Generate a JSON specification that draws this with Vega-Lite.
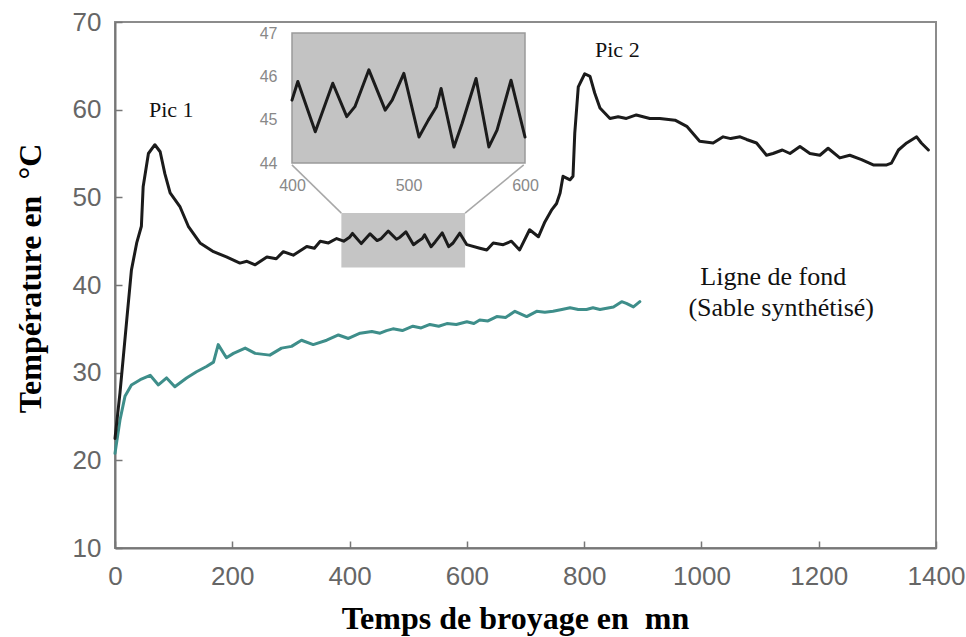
{
  "$schema": "https://vega.github.io/schema/vega-lite/v6.json",
  "width": 821,
  "height": 526,
  "autosize": "none",
  "padding": {"left": 115, "top": 22, "right": 30, "bottom": 89},
  "background": "white",
  "config": {"view": {"stroke": "#8c8c8c", "strokeWidth": 2}, "axis": {"grid": false}},
  "datasets": {
    "black": [
      {"t": 0, "temp": 22.5}, {"t": 8.5, "temp": 27.7}, {"t": 20, "temp": 36}, {"t": 28, "temp": 41.7},
      {"t": 37, "temp": 44.8}, {"t": 45, "temp": 46.7}, {"t": 48, "temp": 51.2}, {"t": 57, "temp": 55.0},
      {"t": 68, "temp": 56.0}, {"t": 77, "temp": 55.2}, {"t": 85, "temp": 52.7}, {"t": 94, "temp": 50.5},
      {"t": 111, "temp": 48.9}, {"t": 125, "temp": 46.7}, {"t": 145, "temp": 44.8}, {"t": 168, "temp": 43.8},
      {"t": 190, "temp": 43.2}, {"t": 213, "temp": 42.5}, {"t": 225, "temp": 42.7}, {"t": 239, "temp": 42.3},
      {"t": 259, "temp": 43.2}, {"t": 275, "temp": 43.0}, {"t": 287, "temp": 43.8}, {"t": 304, "temp": 43.4},
      {"t": 327, "temp": 44.4}, {"t": 340, "temp": 44.2}, {"t": 350, "temp": 45.0}, {"t": 364, "temp": 44.8},
      {"t": 378, "temp": 45.3}, {"t": 390, "temp": 45.0},
      {"t": 400, "temp": 45.45}, {"t": 405, "temp": 45.88}, {"t": 420, "temp": 44.72}, {"t": 435, "temp": 45.84},
      {"t": 447, "temp": 45.07}, {"t": 454, "temp": 45.3}, {"t": 466, "temp": 46.15}, {"t": 480, "temp": 45.22},
      {"t": 486, "temp": 45.45}, {"t": 496, "temp": 46.07}, {"t": 509, "temp": 44.6}, {"t": 517, "temp": 44.99},
      {"t": 524, "temp": 45.3}, {"t": 528, "temp": 45.72}, {"t": 539, "temp": 44.37}, {"t": 546, "temp": 44.91},
      {"t": 558, "temp": 45.95}, {"t": 569, "temp": 44.37}, {"t": 576, "temp": 44.76}, {"t": 588, "temp": 45.91},
      {"t": 600, "temp": 44.6},
      {"t": 622, "temp": 44.2}, {"t": 634, "temp": 44.0}, {"t": 645, "temp": 44.8}, {"t": 662, "temp": 44.6},
      {"t": 676, "temp": 45.0}, {"t": 690, "temp": 44.0}, {"t": 707, "temp": 46.3}, {"t": 722, "temp": 45.5},
      {"t": 733, "temp": 47.2}, {"t": 745, "temp": 48.6}, {"t": 753, "temp": 49.3}, {"t": 759, "temp": 50.5},
      {"t": 764, "temp": 52.4}, {"t": 776, "temp": 52.0}, {"t": 781, "temp": 52.4}, {"t": 784, "temp": 57.3},
      {"t": 790, "temp": 62.6}, {"t": 801, "temp": 64.1}, {"t": 810, "temp": 63.8}, {"t": 818, "temp": 61.9},
      {"t": 827, "temp": 60.2}, {"t": 844, "temp": 59.0}, {"t": 858, "temp": 59.2}, {"t": 872, "temp": 59.0},
      {"t": 889, "temp": 59.4}, {"t": 912, "temp": 59.0}, {"t": 929, "temp": 59.0}, {"t": 955, "temp": 58.8},
      {"t": 975, "temp": 58.1}, {"t": 997, "temp": 56.4}, {"t": 1020, "temp": 56.2}, {"t": 1037, "temp": 56.9},
      {"t": 1050, "temp": 56.7}, {"t": 1066, "temp": 56.9}, {"t": 1077, "temp": 56.6}, {"t": 1094, "temp": 56.2},
      {"t": 1111, "temp": 54.8}, {"t": 1122, "temp": 55.0}, {"t": 1138, "temp": 55.4}, {"t": 1151, "temp": 55.0},
      {"t": 1168, "temp": 55.8}, {"t": 1185, "temp": 55.0}, {"t": 1202, "temp": 54.8}, {"t": 1216, "temp": 55.6},
      {"t": 1236, "temp": 54.5}, {"t": 1253, "temp": 54.8}, {"t": 1273, "temp": 54.3}, {"t": 1293, "temp": 53.7},
      {"t": 1316, "temp": 53.7}, {"t": 1324, "temp": 53.9}, {"t": 1336, "temp": 55.4}, {"t": 1350, "temp": 56.2},
      {"t": 1367, "temp": 56.9}, {"t": 1375, "temp": 56.2}, {"t": 1387, "temp": 55.4}
    ],
    "teal": [
      {"t": 0, "temp": 20.8}, {"t": 8.5, "temp": 24.6}, {"t": 17, "temp": 27.3}, {"t": 28, "temp": 28.6},
      {"t": 43, "temp": 29.2}, {"t": 60, "temp": 29.7}, {"t": 74, "temp": 28.6}, {"t": 88, "temp": 29.4},
      {"t": 102, "temp": 28.4}, {"t": 122, "temp": 29.4}, {"t": 139, "temp": 30.1}, {"t": 156, "temp": 30.7},
      {"t": 168, "temp": 31.2}, {"t": 176, "temp": 33.2}, {"t": 190, "temp": 31.7}, {"t": 202, "temp": 32.2},
      {"t": 222, "temp": 32.8}, {"t": 239, "temp": 32.2}, {"t": 264, "temp": 32.0}, {"t": 284, "temp": 32.8},
      {"t": 301, "temp": 33.0}, {"t": 318, "temp": 33.7}, {"t": 338, "temp": 33.2}, {"t": 361, "temp": 33.7},
      {"t": 381, "temp": 34.3}, {"t": 398, "temp": 33.9}, {"t": 418, "temp": 34.5}, {"t": 438, "temp": 34.7},
      {"t": 452, "temp": 34.5}, {"t": 463, "temp": 34.8}, {"t": 474, "temp": 35.0}, {"t": 490, "temp": 34.8},
      {"t": 508, "temp": 35.3}, {"t": 522, "temp": 35.1}, {"t": 537, "temp": 35.5}, {"t": 552, "temp": 35.3},
      {"t": 566, "temp": 35.6}, {"t": 582, "temp": 35.5}, {"t": 600, "temp": 35.8}, {"t": 612, "temp": 35.6},
      {"t": 622, "temp": 36.0}, {"t": 636, "temp": 35.9}, {"t": 651, "temp": 36.4}, {"t": 666, "temp": 36.3},
      {"t": 682, "temp": 37.0}, {"t": 702, "temp": 36.4}, {"t": 719, "temp": 37.0}, {"t": 733, "temp": 36.9},
      {"t": 747, "temp": 37.0}, {"t": 762, "temp": 37.2}, {"t": 776, "temp": 37.4}, {"t": 790, "temp": 37.2},
      {"t": 804, "temp": 37.2}, {"t": 815, "temp": 37.4}, {"t": 827, "temp": 37.2}, {"t": 850, "temp": 37.5},
      {"t": 864, "temp": 38.1}, {"t": 872, "temp": 37.9}, {"t": 884, "temp": 37.5}, {"t": 895, "temp": 38.1}
    ]
  },
  "layer": [
    {
      "layer": [
        {
          "data": {"values": [{"t": 386, "t2": 597, "temp": 42, "temp2": 48.2}]},
          "mark": {"type": "rect", "fill": "#c5c5c5"},
          "encoding": {
            "x": {"field": "t", "type": "quantitative", "scale": {"domain": [0, 1400], "nice": false, "zero": false},
              "axis": {"title": "Temps de broyage en\u00a0 mn", "values": [0, 200, 400, 600, 800, 1000, 1200, 1400], "format": "d",
                "labelFont": "Liberation Sans", "labelFontSize": 26, "labelColor": "#666", "labelFlush": false, "labelOverlap": false,
                "labelPadding": 22, "domainColor": "#777", "domainWidth": 2, "tickColor": "#777", "tickWidth": 1.5, "tickSize": -7,
                "titleFont": "Liberation Serif", "titleFontSize": 32, "titleFontWeight": "bold", "titleColor": "#000",
                "titleX": 400, "titleY": 80, "titleAlign": "center", "titleBaseline": "alphabetic"}},
            "x2": {"field": "t2"},
            "y": {"field": "temp", "type": "quantitative", "scale": {"domain": [10, 70], "nice": false, "zero": false},
              "axis": {"title": "Température en\u00a0 °C", "values": [10, 20, 30, 40, 50, 60, 70], "format": "d",
                "labelFont": "Liberation Sans", "labelFontSize": 26, "labelColor": "#666", "labelFlush": false, "labelOverlap": false,
                "labelPadding": 21, "domainColor": "#777", "domainWidth": 2, "tickColor": "#777", "tickWidth": 1.5, "tickSize": -7,
                "titleFont": "Liberation Serif", "titleFontSize": 32, "titleFontWeight": "bold", "titleColor": "#000",
                "titleX": -75, "titleY": 256, "titleAlign": "center", "titleBaseline": "alphabetic", "titleAngle": -90}},
            "y2": {"field": "temp2"}
          }
        },
        {
          "data": {"values": [
            {"t": 386, "temp": 48.2, "t2": 301.7, "temp2": 53.7},
            {"t": 597, "temp": 48.2, "t2": 697, "temp2": 53.7}
          ]},
          "mark": {"type": "rule", "color": "#a8a8a8", "strokeWidth": 1.5},
          "encoding": {
            "x": {"field": "t", "type": "quantitative"},
            "x2": {"field": "t2"},
            "y": {"field": "temp", "type": "quantitative"},
            "y2": {"field": "temp2"}
          }
        },
        {
          "data": {"name": "teal"},
          "mark": {"type": "line", "color": "#3e8e8a", "strokeWidth": 3, "strokeJoin": "round", "strokeCap": "round"},
          "encoding": {
            "x": {"field": "t", "type": "quantitative"},
            "y": {"field": "temp", "type": "quantitative"}
          }
        },
        {
          "data": {"name": "black"},
          "mark": {"type": "line", "color": "#1b1b1b", "strokeWidth": 3, "strokeJoin": "round", "strokeCap": "round"},
          "encoding": {
            "x": {"field": "t", "type": "quantitative"},
            "y": {"field": "temp", "type": "quantitative"}
          }
        },
        {
          "data": {"values": [
            {"t": 96, "temp": 59.2, "label": "Pic 1"},
            {"t": 856.6, "temp": 66.0, "label": "Pic 2"}
          ]},
          "mark": {"type": "text", "font": "Liberation Serif", "fontSize": 22, "color": "#111", "align": "center", "baseline": "alphabetic"},
          "encoding": {
            "x": {"field": "t", "type": "quantitative"},
            "y": {"field": "temp", "type": "quantitative"},
            "text": {"field": "label"}
          }
        },
        {
          "data": {"values": [
            {"t": 1122.5, "temp": 40.0, "label": "Ligne de fond"},
            {"t": 1136, "temp": 36.5, "label": "(Sable synthétisé)"}
          ]},
          "mark": {"type": "text", "font": "Liberation Serif", "fontSize": 26, "color": "#111", "align": "center", "baseline": "alphabetic"},
          "encoding": {
            "x": {"field": "t", "type": "quantitative"},
            "y": {"field": "temp", "type": "quantitative"},
            "text": {"field": "label"}
          }
        }
      ]
    },
    {
      "layer": [
        {
          "data": {"values": [{"t": 400, "t2": 600, "temp": 44, "temp2": 47}]},
          "mark": {"type": "rect", "fill": "#c3c3c3", "stroke": "#9a9a9a", "strokeWidth": 1.5},
          "encoding": {
            "x": {"field": "t", "type": "quantitative", "scale": {"domain": [400, 600], "range": [177, 410], "nice": false, "zero": false},
              "axis": {"title": null, "values": [400, 500, 600], "orient": "bottom", "offset": -385, "domain": false, "ticks": false,
                "labelFont": "Liberation Sans", "labelFontSize": 16, "labelColor": "#888", "labelPadding": 14, "labelFlush": false}},
            "x2": {"field": "t2"},
            "y": {"field": "temp", "type": "quantitative", "scale": {"domain": [44, 47], "range": [141, 11], "nice": false, "zero": false},
              "axis": {"title": null, "values": [44, 45, 46, 47], "orient": "left", "offset": -177, "domain": false, "ticks": false,
                "labelFont": "Liberation Sans", "labelFontSize": 16, "labelColor": "#888", "labelPadding": 15, "labelFlush": false}},
            "y2": {"field": "temp2"}
          }
        },
        {
          "data": {"name": "black"},
          "transform": [{"filter": "datum.t >= 400 && datum.t <= 600"}],
          "mark": {"type": "line", "color": "#1b1b1b", "strokeWidth": 3, "strokeJoin": "round", "strokeCap": "round"},
          "encoding": {
            "x": {"field": "t", "type": "quantitative",
              "axis": {"title": null, "values": [400, 500, 600], "orient": "bottom", "offset": -385, "domain": false, "ticks": false,
                "labelFont": "Liberation Sans", "labelFontSize": 16, "labelColor": "#888", "labelPadding": 14, "labelFlush": false}},
            "y": {"field": "temp", "type": "quantitative",
              "axis": {"title": null, "values": [44, 45, 46, 47], "orient": "left", "offset": -177, "domain": false, "ticks": false,
                "labelFont": "Liberation Sans", "labelFontSize": 16, "labelColor": "#888", "labelPadding": 15, "labelFlush": false}}
          }
        }
      ]
    }
  ],
  "resolve": {"scale": {"x": "independent", "y": "independent"}}
}
